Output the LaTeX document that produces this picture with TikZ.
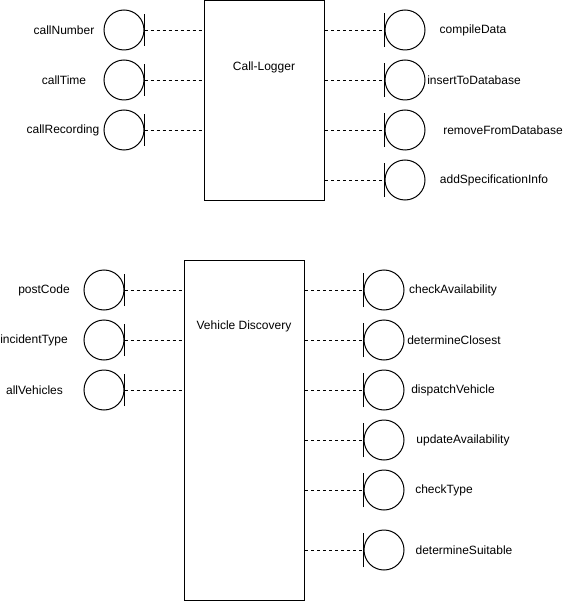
\documentclass[tikz,border=0pt]{standalone}
\usepackage{fontspec}
\setmainfont{Liberation Sans}
\begin{document}
\begin{tikzpicture}[x=1pt,y=-1pt,
  comp/.style={draw,line width=1pt,minimum width=120pt,inner sep=0pt,anchor=north west},
  iface/.style={draw,line width=1pt,circle,minimum size=40pt,inner sep=0pt},
  lbl/.style={font=\fontsize{12pt}{14pt}\selectfont,inner sep=0pt},
  conn/.style={line width=0.8pt,dash pattern=on 3pt off 3pt},
  bar/.style={line width=1pt}]
\useasboundingbox (0,0) rectangle (564,601);
% Call-Logger
\node[comp,minimum height=200pt] (cl) at (204,0.5) {};
\node[lbl] (cllbl) at (264,67) {Call-Logger};
% Vehicle Discovery
\node[comp,minimum height=340pt] (vd) at (184,260) {};
\node[lbl] (vdlbl) at (244,326) {Vehicle Discovery};
% left interfaces (bar on east side)
\foreach \n/\y/\t/\lx in {cn/30/callNumber/64, ct/80/callTime/64, cr/130/callRecording/63}{
  \node[iface] (\n) at (124,\y) {};
  \draw[bar] ([yshift=-16pt]\n.east) -- ([yshift=16pt]\n.east);
  \node[lbl] (\n l) at (\lx,\y) {\t};
  \draw[conn] (\n.east) -- (\n.east -| cl.west);
}
\foreach \n/\y/\t/\lx in {pc/290/postCode/44, it/340/incidentType/34, av/390/allVehicles/34.5}{
  \node[iface] (\n) at (104,\y) {};
  \draw[bar] ([yshift=-16pt]\n.east) -- ([yshift=16pt]\n.east);
  \node[lbl] (\n l) at (\lx,\y) {\t};
  \draw[conn] (\n.east) -- (\n.east -| vd.west);
}
% right interfaces (bar on west side)
\foreach \n/\y/\t/\lx in {cd/30/compileData/473, id/80/insertToDatabase/474, rd/130/removeFromDatabase/503, as/180/addSpecificationInfo/494}{
  \node[iface] (\n) at (405,\y) {};
  \draw[bar] ([yshift=-17pt]\n.west) -- ([yshift=17pt]\n.west);
  \node[lbl] (\n l) at (\lx,\y) {\t};
  \draw[conn] (\n.west -| cl.east) -- (\n.west);
}
\foreach \n/\y/\t/\lx in {ca/290/checkAvailability/453, dc/340/determineClosest/454, dv/390/dispatchVehicle/453, ua/440/updateAvailability/463, ck/490/checkType/444, ds/550/determineSuitable/464}{
  \node[iface] (\n) at (384,\y) {};
  \draw[bar] ([yshift=-17pt]\n.west) -- ([yshift=17pt]\n.west);
  \node[lbl] (\n l) at (\lx,\y) {\t};
  \draw[conn] (\n.west -| vd.east) -- (\n.west);
}
\end{tikzpicture}
\end{document}
